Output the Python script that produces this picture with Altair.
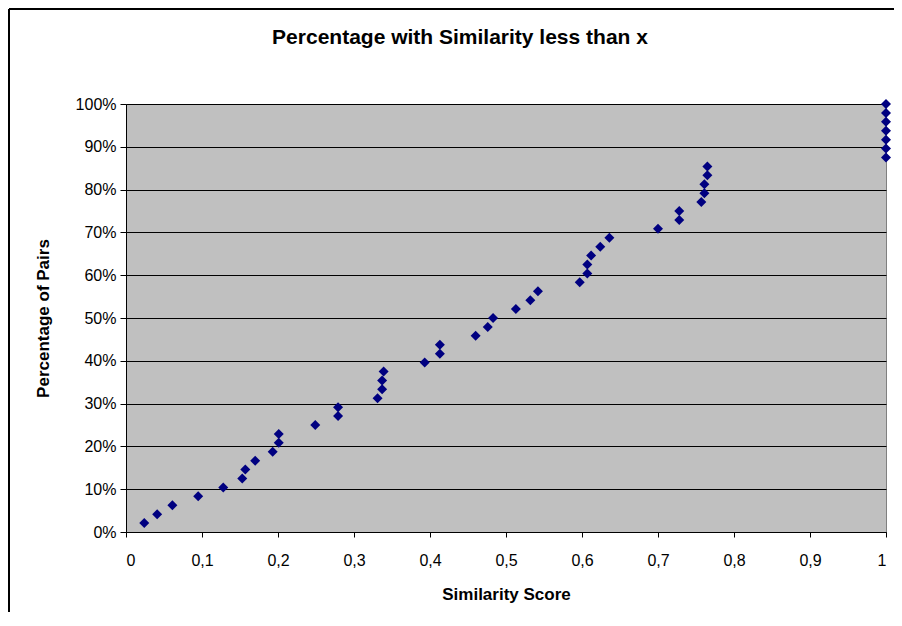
import altair as alt
import pandas as pd

# Similarity scores (x) and cumulative percentage of pairs (y)
similarity = [
    0.024, 0.041, 0.061, 0.095, 0.128, 0.153, 0.157, 0.170, 0.193, 0.201,
    0.201, 0.249, 0.279, 0.279, 0.331, 0.337, 0.337, 0.339, 0.393, 0.413,
    0.413, 0.460, 0.476, 0.483, 0.513, 0.532, 0.542, 0.597, 0.607, 0.607,
    0.612, 0.624, 0.636, 0.700, 0.728, 0.728, 0.757, 0.761, 0.761, 0.765,
    0.765, 1.0, 1.0, 1.0, 1.0, 1.0, 1.0, 1.0,
]
percentage = [
    0.0208, 0.0417, 0.0625, 0.0833, 0.1042, 0.1250, 0.1458, 0.1667, 0.1875, 0.2083,
    0.2292, 0.2500, 0.2708, 0.2917, 0.3125, 0.3333, 0.3542, 0.3750, 0.3958, 0.4167,
    0.4375, 0.4583, 0.4792, 0.5000, 0.5208, 0.5417, 0.5625, 0.5833, 0.6042, 0.6250,
    0.6458, 0.6667, 0.6875, 0.7083, 0.7292, 0.7500, 0.7708, 0.7917, 0.8125, 0.8333,
    0.8542, 0.8750, 0.8958, 0.9167, 0.9375, 0.9583, 0.9792, 1.0000,
]
x_ticks = [0, 0.1, 0.2, 0.3, 0.4, 0.5, 0.6, 0.7, 0.8, 0.9, 1]
y_ticks = [0, 0.1, 0.2, 0.3, 0.4, 0.5, 0.6, 0.7, 0.8, 0.9, 1]
title_text = "Percentage with Similarity less than x"

df = pd.DataFrame({"Similarity": similarity, "Percentage": percentage})

FONT = "Liberation Sans"
W, H = 760, 428

points = alt.Chart(df).mark_point(
    shape="diamond", filled=True, color="#000080", size=100, opacity=1
).encode(
    x=alt.X(
        "Similarity:Q",
        scale=alt.Scale(domain=[0, 1], nice=False),
        axis=alt.Axis(
            values=x_ticks,
            labelExpr="replace(format(datum.value, '~g'), '.', ',')",
            title="Similarity Score",
            grid=False,
            tickSize=5,
            labelPadding=15,
            titlePadding=18,
        ),
    ),
    y=alt.Y(
        "Percentage:Q",
        scale=alt.Scale(domain=[0, 1], nice=False),
        axis=alt.Axis(
            values=y_ticks,
            format=".0%",
            title="Percentage of Pairs",
            grid=True,
            tickSize=6,
            labelPadding=4,
            titlePadding=23,
        ),
    ),
)

frame_data = alt.Data(values=[{"a": 1}])
left_frame = alt.Chart(frame_data).mark_rule(color="black", strokeWidth=2).encode(
    x=alt.value(-117), y=alt.value(-95), y2=alt.value(H + 90)
)
top_frame = alt.Chart(frame_data).mark_rule(color="black", strokeWidth=2).encode(
    x=alt.value(-117), x2=alt.value(W + 20), y=alt.value(-95)
)
title = alt.Chart(frame_data).mark_text(
    font=FONT, fontSize=21, fontWeight="bold", color="black",
    align="center", baseline="middle",
).encode(
    x=alt.value(W / 2 - 46), y=alt.value(-66), text=alt.value(title_text)
)

chart = alt.layer(points, left_frame, top_frame, title).properties(
    width=W,
    height=H,
    padding={"left": 118, "top": 96, "right": 8, "bottom": 80},
    autosize="none",
    background="white",
).configure_view(
    fill="#C0C0C0", stroke="#808080", strokeWidth=1
).configure_axis(
    labelFont=FONT,
    titleFont=FONT,
    labelFontSize=16,
    titleFontSize=17,
    titleFontWeight="bold",
    labelColor="black",
    titleColor="black",
    domainColor="black",
    tickColor="black",
    gridColor="black",
    gridWidth=1,
    gridOpacity=1,
    domainWidth=1,
)

chart.save("out.html", embed_options={"renderer": "svg", "actions": False})
